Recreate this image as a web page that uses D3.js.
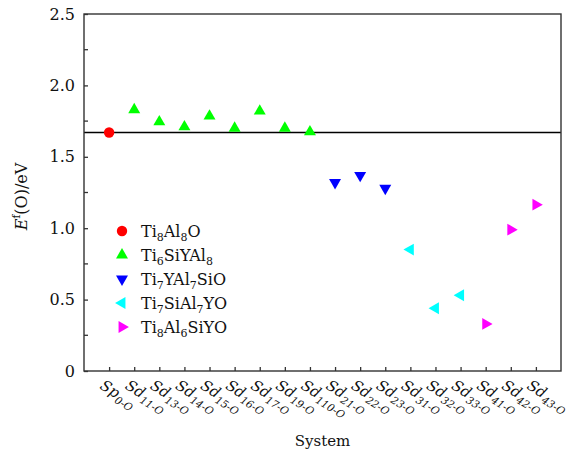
<!DOCTYPE html>
<html>
<head>
<meta charset="utf-8">
<script src="https://cdn.jsdelivr.net/npm/d3@7"></script>
<style>
  body { margin: 0; background: #fff; }
  svg text { font-family: "DejaVu Serif", serif; fill: #111; }
</style>
</head>
<body>
<svg id="chart" width="575" height="454"></svg>
<script>
// categories: [main, subscript]
const systems = [
  ["Sp", "0-O"], ["Sd", "11-O"], ["Sd", "13-O"], ["Sd", "14-O"], ["Sd", "15-O"],
  ["Sd", "16-O"], ["Sd", "17-O"], ["Sd", "19-O"], ["Sd", "110-O"],
  ["Sd", "21-O"], ["Sd", "22-O"], ["Sd", "23-O"],
  ["Sd", "31-O"], ["Sd", "32-O"], ["Sd", "33-O"],
  ["Sd", "41-O"], ["Sd", "42-O"], ["Sd", "43-O"]
]
const keys = systems.map(d => d[0] + d[1])

const pure = [1.67]
const ti6SiYAl8 = [1.83, 1.745, 1.71, 1.785, 1.70, 1.82, 1.70, 1.675]
const ti7YAl7SiO = [1.32, 1.37, 1.28]
const ti7SiAl7YO = [0.85, 0.44, 0.53]
const ti8Al6SiYO = [0.33, 0.99, 1.165]
const refLine = 1.67

const yTicks = [0, 0.5, 1.0, 1.5, 2.0, 2.5]
const yMinor = [0.25, 0.75, 1.25, 1.75, 2.25]

// series: name parts [text, subscript], colour, marker rotation, values, first category index
const series = [
  { name: [["Ti", "8"], ["Al", "8"], ["O", ""]], color: "#ff0000", shape: "circle", vals: pure, start: 0 },
  { name: [["Ti", "6"], ["SiYAl", "8"]], color: "#00ff00", shape: 0, vals: ti6SiYAl8, start: 1 },
  { name: [["Ti", "7"], ["YAl", "7"], ["SiO", ""]], color: "#0000ff", shape: 180, vals: ti7YAl7SiO, start: 9 },
  { name: [["Ti", "7"], ["SiAl", "7"], ["YO", ""]], color: "#00ffff", shape: -90, vals: ti7SiAl7YO, start: 12 },
  { name: [["Ti", "8"], ["Al", "6"], ["SiYO", ""]], color: "#ff00ff", shape: 90, vals: ti8Al6SiYO, start: 15 }
]

const svg = d3.select("#chart")
const L = 84, R = 561, T = 14, B = 371

const x = d3.scalePoint().domain(keys).range([L, R]).padding(1)
const y = d3.scaleLinear().domain([0, 2.5]).range([B, T])

const tri = d3.symbol().type(d3.symbolTriangle).size(62)

function marker(g, s) {
  if (s.shape === "circle") {
    g.append("circle").attr("r", 5.2).attr("fill", s.color)
  } else {
    g.append("path").attr("d", tri()).attr("fill", s.color)
      .attr("transform", `rotate(${s.shape})`)
  }
}

// reference line
svg.append("line")
  .attr("x1", L).attr("x2", R)
  .attr("y1", y(refLine)).attr("y2", y(refLine))
  .attr("stroke", "#000").attr("stroke-width", 1.3)

// points
series.forEach(s => {
  s.vals.forEach((v, i) => {
    const g = svg.append("g")
      .attr("transform", `translate(${x(keys[s.start + i])},${y(v)})`)
    marker(g, s)
  })
})

// frame
svg.append("rect")
  .attr("x", L).attr("y", T).attr("width", R - L).attr("height", B - T)
  .attr("fill", "none").attr("stroke", "#333").attr("stroke-width", 1.4)

// y axis
const yAxis = svg.append("g").attr("transform", `translate(${L},0)`)
  .call(d3.axisLeft(y).tickValues(yTicks).tickSize(-4).tickPadding(9)
    .tickFormat(d => d === 0 ? "0" : d3.format(".1f")(d)))
yAxis.attr("font-family", null).attr("font-size", null)
yAxis.append("g").selectAll("line").data(yMinor).join("line")
  .attr("x1", 0).attr("x2", 4).attr("y1", d => y(d)).attr("y2", d => y(d))
  .attr("stroke", "#333").attr("stroke-width", 1.3)
yAxis.select(".domain").remove()
yAxis.selectAll(".tick line").attr("stroke", "#333").attr("stroke-width", 1.3)
yAxis.selectAll(".tick text").style("font-size", "16px").attr("fill", "#111")

// x axis (ticks only)
const xAxis = svg.append("g").attr("transform", `translate(0,${B})`)
  .call(d3.axisBottom(x).tickSize(-4).tickFormat(""))
xAxis.select(".domain").remove()
xAxis.selectAll(".tick line").attr("stroke", "#333").attr("stroke-width", 1.3)

// x tick labels
const xl = svg.append("g").selectAll("text").data(systems).join("text")
  .attr("transform", (d, i) => `translate(${x(keys[i]) - 10},${B + 17}) rotate(32)`)
  .style("font-size", "15px").style("font-style", "italic")
xl.append("tspan").text(d => d[0])
xl.append("tspan").attr("dy", 4).style("font-size", "10.5px").text(d => d[1])

// axis titles
svg.append("text")
  .attr("x", (L + R) / 2).attr("y", 446).attr("text-anchor", "middle")
  .style("font-size", "15px").text("System")

const yl = svg.append("text")
  .attr("transform", `translate(27,${(T + B) / 2 + 4}) rotate(-90)`)
  .attr("text-anchor", "middle").style("font-size", "16px")
yl.append("tspan").style("font-style", "italic").text("E")
yl.append("tspan").attr("dy", -7).style("font-size", "10.5px").text("f")
yl.append("tspan").attr("dy", 7).text("(O)/eV")

// legend
const lg = svg.append("g").attr("transform", "translate(122,231)")
series.forEach((s, i) => {
  const row = lg.append("g").attr("transform", `translate(0,${i * 24})`)
  marker(row, s)
  const t = row.append("text").attr("x", 19).attr("y", 6).style("font-size", "16px")
  let shift = 0
  s.name.forEach(p => {
    t.append("tspan").attr("dy", -shift).text(p[0])
    shift = 0
    if (p[1]) {
      t.append("tspan").attr("dy", 4).style("font-size", "11px").text(p[1])
      shift = 4
    }
  })
})
</script>
</body>
</html>
